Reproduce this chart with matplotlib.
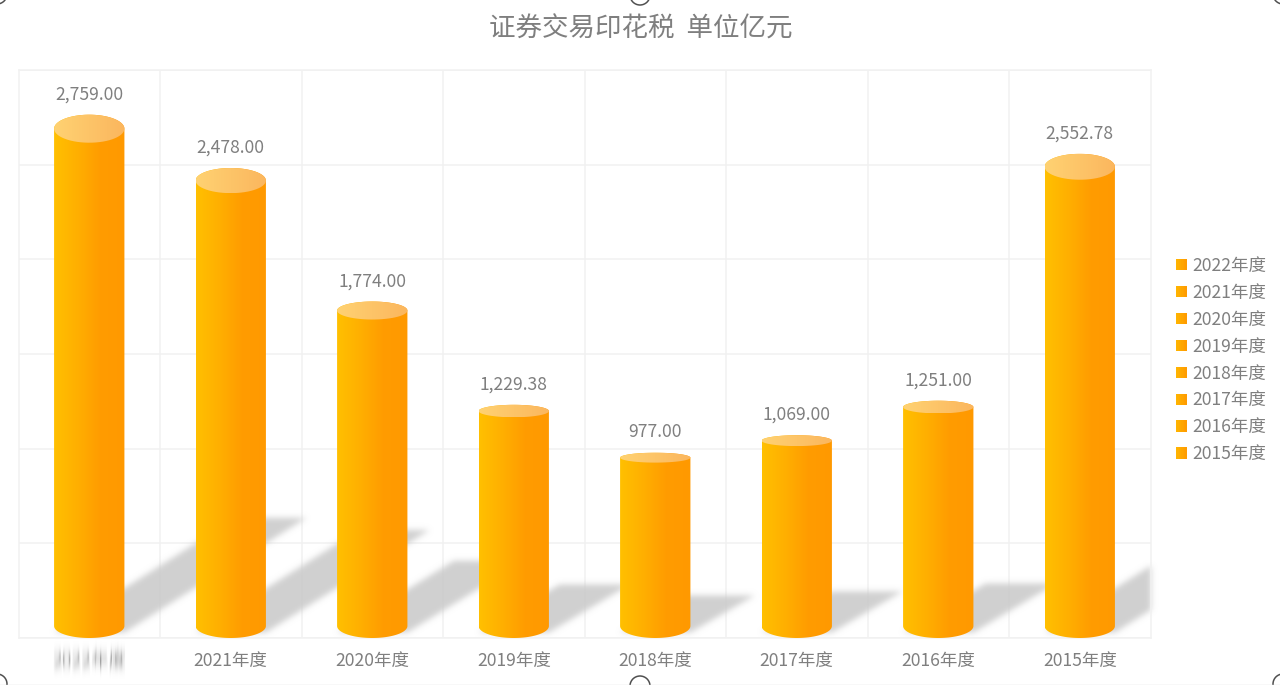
import numpy as np
import matplotlib
matplotlib.use('Agg')
import matplotlib.pyplot as plt
from matplotlib.colors import LinearSegmentedColormap
from matplotlib.legend_handler import HandlerBase
from matplotlib.patches import Circle, Patch, PathPatch, Polygon, Rectangle
from matplotlib.path import Path

plt.rcParams['font.family'] = ['Noto Sans CJK SC', 'DejaVu Sans']

categories = ['2022年度', '2021年度', '2020年度', '2019年度', '2018年度', '2017年度', '2016年度', '2015年度']
tax_values = [2759.00, 2478.00, 1774.00, 1229.38, 977.00, 1069.00, 1251.00, 2552.78]
y_max = 3077
grid_steps = 6
title_text = '证券交易印花税  单位亿元'

TEXT_GREY = '#7f7f7f'
GRID = '#f1f1f1'
BAR_WIDTH = 0.497
BASE_SEMI = 65
TOP_RATIO = 0.055

side_cmap = LinearSegmentedColormap.from_list('side', [(0, '#ffc000'), (0.35, '#ffae00'), (0.65, '#ff9c00'), (1, '#ff9900')])
top_cmap = LinearSegmentedColormap.from_list('top', ['#ffd272', '#fbb65e'])
swatch_cmap = LinearSegmentedColormap.from_list('swatch', ['#ffb400', '#ff9c00'])
gradient = np.linspace(0, 1, 256).reshape(1, -1)


def blur_filter(color, sigma_x, sigma_y):
    # blur only the alpha channel, colour stays flat
    rgb = matplotlib.colors.to_rgb(color)
    def kernel(sigma):
        if sigma == 0:
            return np.array([1.0])
        k = np.exp(-0.5 * (np.arange(-int(3 * sigma), int(3 * sigma) + 1) / sigma) ** 2)
        return k / k.sum()
    def process(image, dpi):
        pad = int(3 * max(sigma_x, sigma_y)) + 1
        alpha = np.pad(image[:, :, 3], pad)
        alpha = np.apply_along_axis(lambda r: np.convolve(r, kernel(sigma_x), mode='same'), 1, alpha)
        alpha = np.apply_along_axis(lambda c: np.convolve(c, kernel(sigma_y), mode='same'), 0, alpha)
        out = np.zeros(alpha.shape + (4,))
        out[:, :, :3] = rgb
        out[:, :, 3] = alpha
        return out, -pad, -pad
    return process


def half_ellipse(cx, cy, semi_x, semi_y, start, stop):
    t = np.linspace(start, stop, 60)
    return np.column_stack([cx + semi_x * np.cos(t), cy + semi_y * np.sin(t)])


def gradient_fill(axis, points, cmap, x0, x1, y0, y1, zorder):
    clip = PathPatch(Path(np.vstack([points, points[:1]])), transform=axis.transData, fc='none', ec='none')
    axis.add_patch(clip)
    image = axis.imshow(gradient, cmap=cmap, extent=(x0, x1, y0, y1), aspect='auto', zorder=zorder, interpolation='bilinear')
    image.set_clip_path(clip)


class GradientSwatch(HandlerBase):
    def create_artists(self, legend, orig_handle, xdescent, ydescent, width, height, fontsize, trans):
        strips = []
        count = 8
        for i in range(count):
            strips.append(Rectangle((-xdescent + i * width / count, -ydescent), width / count * 1.1, height,
                                    fc=swatch_cmap(i / (count - 1)), ec='none', transform=trans))
        return strips


figure = plt.figure(figsize=(12.8, 6.85), dpi=100)
axis = figure.add_axes([18.5 / 1280, 1 - 638 / 685, (1151 - 19) / 1280, (638 - 70) / 685])

positions = np.arange(len(categories))
half = BAR_WIDTH / 2

for x, value in zip(positions, tax_values):
    top_semi = TOP_RATIO * value / 2
    # shadow thrown up and to the right, grows with the bar
    shift = 0.000466 * value
    reach = 0.236 * value
    shadow = Polygon([(x - half, 30), (x + half, 30), (x + half + shift, reach), (x - half + shift, reach)],
                     fc='#c8c8c8', ec='none', alpha=0.85, zorder=2)
    axis.add_patch(shadow)
    shadow.set_agg_filter(blur_filter('#c8c8c8', 3, 3))

    side = np.vstack([half_ellipse(x, BASE_SEMI, half, BASE_SEMI, np.pi, 2 * np.pi),
                      half_ellipse(x, value, half, top_semi, 0, np.pi)])
    gradient_fill(axis, side, side_cmap, x - half, x + half, 0, value + top_semi, 3)
    top = half_ellipse(x, value, half, top_semi, 0, 2 * np.pi)
    gradient_fill(axis, top, top_cmap, x - half, x + half, value - top_semi, value + top_semi, 4)

    axis.annotate(f'{value:,.2f}', (x, value + top_semi), xytext=(0, 14.6), textcoords='offset points',
                  ha='center', va='center', fontsize=12.6, color=TEXT_GREY, zorder=5)

axis.set_xlim(-0.5, len(categories) - 0.5)
axis.set_ylim(0, y_max)
axis.set_xticks(positions, categories, fontsize=12.6, color=TEXT_GREY)
axis.set_xticks(positions[:-1] + 0.5, minor=True)
axis.set_yticks(np.linspace(0, y_max, grid_steps + 1))
axis.tick_params(axis='both', which='both', length=0)
axis.tick_params(axis='x', which='major', pad=10.2)
axis.tick_params(axis='y', labelleft=False)
axis.grid(True, axis='y', color=GRID, lw=1.1, zorder=1)
axis.grid(True, axis='x', which='minor', color=GRID, lw=1.1, zorder=1)
axis.grid(False, axis='x', which='major')
axis.set_axisbelow(True)
for spine in axis.spines.values():
    spine.set_color(GRID)
    spine.set_linewidth(1.1)

# the first category label is smeared out in the source picture
axis.get_xticklabels()[0].set_agg_filter(blur_filter('#8a8a8a', 0, 5))

handles = [Patch(label=c) for c in categories]
figure.legend(handles=handles, loc='center left', bbox_to_anchor=(1169 / 1280, 1 - 360 / 685), frameon=False,
              fontsize=12.6, labelcolor=TEXT_GREY, handlelength=0.62, handleheight=0.62, handletextpad=0.33,
              labelspacing=0.51, borderaxespad=0, handler_map={Patch: GradientSwatch()})

figure.text(640.5 / 1280, 1 - 29 / 685, title_text, ha='center', va='center', fontsize=19.1, color=TEXT_GREY)

# screenshot frame with the crop handles
overlay = figure.add_axes([0, 0, 1, 1], zorder=10)
overlay.set_xlim(0, 1280)
overlay.set_ylim(685, 0)
overlay.axis('off')
overlay.plot([0, 1280], [684.5, 684.5], color='#dddddd', lw=1)
for cx, cy in [(640, -5), (640, 686), (-3, 684), (1283, 684), (-3, -6), (1283, -6)]:
    overlay.add_patch(Circle((cx, cy), 10, fc='white', ec='#505050', lw=1.1))

figure.savefig('out.png', dpi=100)
